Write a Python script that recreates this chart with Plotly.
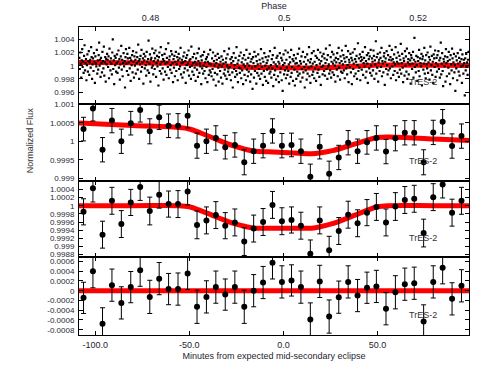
import plotly.graph_objects as go

# ---------------- data ----------------
# Panel 1: unbinned photometry (regular cadence), flux offsets from 1 in units of 1e-4
raw_start_min = -108.4
raw_step_min = 0.25
raw_dev_1e4 = [
    12, -5, 20, 3, -18, 8, 25, -2, 6, -11, 15, 31, -7, 4, 10, -22, 1, 17, -9, 7,
    22, -14, 5, 9, -3, 28, 13, -20, 2, 11, -8, 19, 6, -26, 14, 3, -1, 24, -12, 8,
    -6, 16, 35, 0, 9, -17, 12, 4, -10, 21, 7, -4, 29, -15, 5, 13, -24, 10, 2, 18,
    9, -2, 14, -19, 26, 6, -7, 11, 3, -13, 20, 40, -5, 8, -28, 15, 1, 12, -9, 4,
    17, -11, 6, 23, -3, 10, -21, 2, 14, 30, -6, 9, -16, 4, 19, -1, 7, -33, 13, 25,
    3, -8, 18, 11, -14, 5, 27, -4, 12, -23, 8, 1, 16, -10, 22, 6, -18, 14, 0, 9,
    -12, 20, 4, 13, -6, 32, 7, -20, 10, 2, 15, -9, 24, -2, 5, 11, -27, 18, 8, -4,
    14, 1, -15, 21, 6, -7, 10, 38, -11, 3, 17, -24, 9, 12, -3, 26, 0, -13, 7, 19,
    -5, 11, 23, -17, 4, 15, -1, 8, -30, 13, 20, -8, 2, 28, -12, 6, 16, -4, 10, -21,
    7, 18, -9, 3, 25, -14, 12, 5, -2, 34, -19, 9, 14, -6, 1, 22, -11, 17, 4, -25,
    10, -3, 15, -16, 6, 21, -8, 2, 13, -22, 8, 18, -5, 11, -1, 27, -13, 4, 9, -18,
    5, 14, -10, 20, -4, 7, -26, 12, 1, 16, -7, 3, 23, -15, 8, -2, 10, -20, 29, 0,
    -9, 13, 4, -14, 18, -3, 6, -23, 11, 2, -6, 19, -17, 7, 26, -11, 3, -1, 14, -28,
    8, -4, 16, -12, 0, 21, -8, 5, -19, 10, -2, 13, -25, 6, 17, -14, 3, -7, 24, -10,
    2, -16, 11, -5, 20, -21, 7, 0, -11, 15, -30, 4, 9, -13, 18, -3, -24, 12, 1, -8,
    6, -18, 14, -1, -27, 9, 3, -12, 22, -6, -15, 5, 11, -20, 0, 17, -9, -4, 26, -14,
    -2, 10, -22, 4, 13, -10, -33, 7, 19, -5, 1, -17, 12, -8, 28, -13, 3, -25, 8, -3,
    15, -11, -4, 20, -19, 5, -7, 11, -28, 2, 16, -14, -1, 9, -22, 24, -6, 3, -16, 12,
    -9, 0, 18, -24, 6, -13, 10, -3, -35, 13, 4, -18, 21, -8, -1, 14, -27, 7, -11, 2,
    17, -15, -5, 9, -20, 3, 25, -12, -2, 11, -29, 6, -8, 19, -17, 0, 13, -23, 4, -6,
    8, -26, 14, -3, -12, 22, -9, 1, -18, 10, -4, 16, -31, 5, -14, 27, -7, 2, -21, 12,
    -1, 15, -16, 6, -25, 3, 19, -10, -4, 12, -22, 8, -38, 1, 17, -13, 4, -7, 23, -19,
    9, -3, -14, 20, -8, 2, -27, 13, 5, -17, 24, -11, -2, 10, -23, 7, 16, -6, -30, 3,
    11, -20, 4, -9, 18, -15, 0, 26, -12, 7, -24, 3, 14, -5, -18, 21, -10, 6, -2, -33,
    13, -7, 2, -21, 17, -12, 8, -3, 28, -16, 5, -26, 10, -1, 19, -14, 3, -9, 22, -19,
    6, -4, 15, -23, 1, 12, -11, 24, -6, 9, -17, 3, 20, -29, 7, -2, 14, -13, 0, 18,
    -8, 11, -15, 4, 26, -5, 9, -20, 16, -1, 2, -12, 31, -7, 13, -18, 6, 21, -10, 3,
    17, -14, 8, 0, -24, 12, 5, -6, 19, -16, 10, 27, -3, 4, -21, 14, -9, 7, 23, -11,
    2, 16, -7, 11, -19, 6, 30, -4, 13, -13, 1, 22, -25, 9, 5, -2, 18, -10, 12, -28,
    8, 20, -5, 3, -16, 25, 10, -12, 6, 15, -20, 1, 34, -8, 11, -3, 17, -22, 7, 13,
    -6, 9, 21, -14, 4, 12, -1, 28, -18, 7, -9, 16, 3, -26, 19, 10, -4, 14, -11, 24,
    0, -15, 11, 6, -7, 23, 15, -20, 8, 2, 37, -12, 13, -3, 18, -24, 5, 9, -8, 20,
    12, -2, 27, -16, 7, 3, -10, 14, 19, -29, 6, 11, -5, 22, 1, -13, 16, -7, 9, 30,
    -4, 13, -19, 8, 24, -1, 10, -14, 5, 17, -8, 2, 28, -22, 12, 6, -11, 20, 3, -17,
    15, -6, 9, 33, -12, 4, 18, -3, -25, 11, 7, -15, 22, 0, 14, -9, 26, -20, 5, 10,
    -13, 19, 2, 8, -27, 16, 12, -5, 3, 21, -18, 9, 42, -2, 6, -10, 15, 1, -23, 13,
    7, -8, 24, -16, 11, 4, -1, 18, -30, 10, 14, -6, 3, 27, -12, 8, -19, 16, 2, -4,
    20, -11, 5, 13, -21, 9, 29, -7, 1, 15, -14, 6, -26, 17, 11, -2, 23, -17, 4, 12,
    -9, 16, 0, 22, -5, 8, -18, 12, 35, -13, 3, 19, -8, -31, 10, 6, -1, 14, -24, 25,
    4, -16, 13, 7, -3, 21, -12, 9, -28, 16, 2, -7, 26, 11, -19, 5, 18, -10, 1, -38,
    14, -4, 8, -22, 19, 3, -9, 12, -15, 6, 24, -1, 10, -26, 17, 0, -12, 9, 4, -45,
    11, -7, 18, -2, 5, -14, 9, 21,
]

# Binned data (5-minute bins)
bin_min = [-106.2, -101.2, -96.1, -91.1, -86.1, -81.1, -76.1, -71.0, -66.0, -61.0,
           -56.0, -50.9, -45.9, -40.9, -35.9, -30.9, -25.8, -20.8, -15.8, -10.8,
           -5.8, -0.8, 4.3, 9.3, 14.3, 19.3, 24.3, 29.4, 34.4, 39.4,
           44.4, 49.4, 54.5, 59.5, 64.5, 69.5, 74.5, 79.6, 84.6, 89.6, 94.6]
p2_flux = [1.00033, 1.00089, 0.99977, 1.00056, 1.00000, 1.00049, 1.00085, 1.00027, 1.00065, 1.00042,
           1.00042, 1.00069, 0.99988, 1.00000, 1.00009, 0.99984, 0.99990, 0.99943, 0.99973, 0.99988,
           1.00028, 0.99988, 0.99990, 0.99973, 0.99904, 0.99985, 0.99912, 0.99956, 0.99996, 0.99973,
           0.99997, 1.00009, 0.99972, 1.00008, 1.00023, 1.00023, 0.99943, 1.00024, 1.00053, 0.99987, 1.00014]
p3_flux = [0.99985, 1.00043, 0.99929, 1.00012, 0.99955, 1.00008, 1.00046, 0.99987, 1.00027, 1.00004,
           1.00004, 1.00035, 0.99953, 0.99964, 0.99977, 0.99951, 0.99959, 0.99912, 0.99944, 0.99960,
           1.00002, 0.99962, 0.99965, 0.99951, 0.99882, 0.99964, 0.99891, 0.99938, 0.99978, 0.99957,
           0.99983, 0.99997, 0.99959, 0.99998, 1.00014, 1.00017, 0.99933, 1.00021, 1.00052, 0.99983, 1.00012]
p4_resid = [-0.000147, 0.00040, -0.00068, 0.000113, -0.00025, 0.000073, 0.00042, -0.000127, 0.000247, 0.000033,
            0.000033, 0.000353, -0.00033, -0.000127, 0.000073, -0.00008, 0.000073, -0.00033, 0.0, 0.000167,
            0.00057, 0.00018, 0.00021, 0.000073, -0.00059, 0.00019, -0.00053, -0.000133, 0.00018, -0.0001,
            0.00006, 0.000087, -0.00037, -0.000033, 0.000133, 0.000153, -0.00063, 0.00018, 0.00047, -0.000167, 0.0001]
bin_err = [0.00032, 0.00034, 0.00033, 0.00033, 0.00033, 0.00032, 0.00033, 0.00034, 0.00033, 0.00032,
           0.00033, 0.00033, 0.00034, 0.00033, 0.00033, 0.00032, 0.00033, 0.00034, 0.00033, 0.00033,
           0.00033, 0.00033, 0.00032, 0.00033, 0.00034, 0.00033, 0.00034, 0.00033, 0.00033, 0.00033,
           0.00032, 0.00033, 0.00033, 0.00034, 0.00033, 0.00033, 0.00034, 0.00033, 0.00033, 0.00033, 0.00033]

# Fitted eclipse model
model_min = [-108.6, -80, -56, -50, -44, -38, -32, -26, -20, -15, -8, 0, 8,
             15, 20, 26, 32, 38, 44, 50, 56, 80, 98.6]
model_trend = [1.000495, 1.000429, 1.000374, 1.000333, 1.000225, 1.000102, 0.999978, 0.999865,
               0.999780, 0.999730, 0.999714, 0.999695, 0.999677, 0.999661, 0.999688, 0.999745,
               0.999831, 0.999927, 1.000023, 1.000103, 1.000116, 1.000061, 1.000018]
model_detr = [1.0, 1.0, 1.0, 0.999973, 0.999879, 0.999769, 0.999659, 0.999560, 0.999489, 0.99945,
              0.99945, 0.99945, 0.99945, 0.99945, 0.999489, 0.999560, 0.999659, 0.999769, 0.999879,
              0.999973, 1.0, 1.0, 1.0]
model_resid = [0.0] * len(model_min)

x_range = [-108.6, 98.6]
phase_range = [0.46932, 0.52760]
phase_ticks = [0.48, 0.5, 0.52]
phase_text = ["0.48", "0.5", "0.52"]
x_ticks = [-100, -50, 0, 50]
x_text = ["-100.0", "-50.0", "0.0", "50.0"]
p1_ticks = [0.996, 0.998, 1.0, 1.002, 1.004]
p1_text = ["0.996", "0.998", "1", "1.002", "1.004"]
p2_ticks = [0.999, 0.9995, 1.0, 1.0005, 1.001]
p2_text = ["0.999", "0.9995", "1", "1.0005", "1.001"]
p3_ticks = [0.9988, 0.999, 0.9992, 0.9994, 0.9996, 0.9998, 1.0, 1.0002, 1.0004]
p3_text = ["0.9988", "0.999", "0.9992", "0.9994", "0.9996", "0.9998", "1", "1.0002", "1.0004"]
p4_ticks = [-0.0008, -0.0006, -0.0004, -0.0002, 0.0, 0.0002, 0.0004, 0.0006]
p4_text = ["-0.0008", "-0.0006", "-0.0004", "-0.0002", "0", "0.0002", "0.0004", "0.0006"]
y_ranges = [[0.99414, 1.00586], [0.99893, 1.001], [0.998733, 1.000613], [-0.000908, 0.000682]]
label = "TrES-2"

# ---------------- figure ----------------
raw_min = [raw_start_min + raw_step_min * i for i in range(len(raw_dev_1e4))]
raw_flux = [1.0 + d * 1e-4 for d in raw_dev_1e4]

RED = "#ff0000"
FONT = "Arial, Liberation Sans, sans-serif"
TXT = "#1e1e32"

fig = go.Figure()

def add_model(x, y, i):
    fig.add_trace(go.Scatter(x=x, y=y, mode="lines", line=dict(color=RED, width=5, shape="spline"),
                             xaxis="x" if i == 1 else f"x{i}", yaxis="y" if i == 1 else f"y{i}",
                             hoverinfo="skip", showlegend=False))

def add_bins(y, i):
    fig.add_trace(go.Scatter(x=bin_min, y=y, mode="markers",
                             marker=dict(color="black", size=6),
                             error_y=dict(type="data", array=bin_err, color="black", thickness=1, width=2.5),
                             xaxis=f"x{i}", yaxis=f"y{i}", hoverinfo="skip", showlegend=False))

# panel 1
add_model(model_min, model_trend, 1)
fig.add_trace(go.Scatter(x=raw_min, y=raw_flux, mode="markers",
                         marker=dict(color="black", size=2.2, symbol="square", line=dict(width=0)),
                         xaxis="x", yaxis="y", hoverinfo="skip", showlegend=False))
# phase axis helper (invisible)
fig.add_trace(go.Scatter(x=phase_ticks, y=[1.0] * 3, mode="markers", marker=dict(opacity=0),
                         xaxis="x5", yaxis="y", hoverinfo="skip", showlegend=False))
# panel 2
add_model(model_min, model_trend, 2)
add_bins(p2_flux, 2)
# panel 3
add_model(model_min, model_detr, 3)
add_bins(p3_flux, 3)
# panel 4
add_model(model_min, model_resid, 4)
add_bins(p4_resid, 4)

W, H = 487, 377
ml, mr, mt, mb = 79.3, 18.3, 27.3, 41.7
ph = H - mt - mb
borders = [27.3, 104.7, 181.0, 257.7, 335.3]
bottom_px = H - mb

def dom(i):
    return [(bottom_px - borders[i + 1]) / ph, (bottom_px - borders[i]) / ph]

axis_common = dict(showline=True, linecolor="black", linewidth=1, mirror="ticks",
                   ticks="inside", ticklen=4, tickcolor="black", showgrid=False, zeroline=False,
                   automargin=False)

layout = dict(
    width=W, height=H, margin=dict(l=ml, r=mr, t=mt, b=mb, autoexpand=False),
    paper_bgcolor="white", plot_bgcolor="white",
    font=dict(family=FONT, color=TXT, size=9),
    showlegend=False,
)
yt = [(p1_ticks, p1_text), (p2_ticks, p2_text), (p3_ticks, p3_text), (p4_ticks, p4_text)]
for i in range(1, 5):
    xa = dict(axis_common, range=x_range, tickvals=x_ticks, ticktext=x_text,
              anchor="y" if i == 1 else f"y{i}", showticklabels=(i == 4),
              tickfont=dict(size=9, color=TXT), ticklabelstandoff=1)
    if i != 1:
        xa["matches"] = "x"
    if i == 4:
        xa["title"] = dict(text="Minutes from expected mid-secondary eclipse",
                           font=dict(size=9, color=TXT), standoff=3)
    ya = dict(axis_common, range=y_ranges[i - 1], domain=dom(i - 1),
              tickvals=yt[i - 1][0], ticktext=yt[i - 1][1], ticklabelstandoff=2,
              anchor="x" if i == 1 else f"x{i}", tickfont=dict(size=8, color=TXT))
    layout["xaxis" if i == 1 else f"xaxis{i}"] = xa
    layout["yaxis" if i == 1 else f"yaxis{i}"] = ya

layout["xaxis5"] = dict(overlaying="x", anchor="y", side="top", range=phase_range,
                        tickvals=phase_ticks, ticktext=phase_text, ticks="", showline=False,
                        showgrid=False, zeroline=False, tickfont=dict(size=9, color=TXT),
                        ticklabelstandoff=3, automargin=False,
                        title=dict(text="Phase", font=dict(size=9, color=TXT), standoff=2))

anns = [dict(text="Normalized Flux", textangle=-90, xref="paper", yref="paper",
             x=(30 - ml) / (W - ml - mr), y=(bottom_px - 141) / ph, showarrow=False,
             font=dict(size=9, color="#333333"), xanchor="center", yanchor="middle")]
lab_y_px = [82, 161.7, 238.3, 315]
for ypx in lab_y_px:
    anns.append(dict(text=label, xref="x", yref="paper", x=74, y=(bottom_px - ypx) / ph,
                     showarrow=False, font=dict(size=9, color="#333333"),
                     xanchor="center", yanchor="middle"))
layout["annotations"] = anns

fig.update_layout(**layout)
fig.write_html("out.html", config={"displayModeBar": False},
               post_script="document.body.style.margin='0';document.body.style.overflow='hidden';")
